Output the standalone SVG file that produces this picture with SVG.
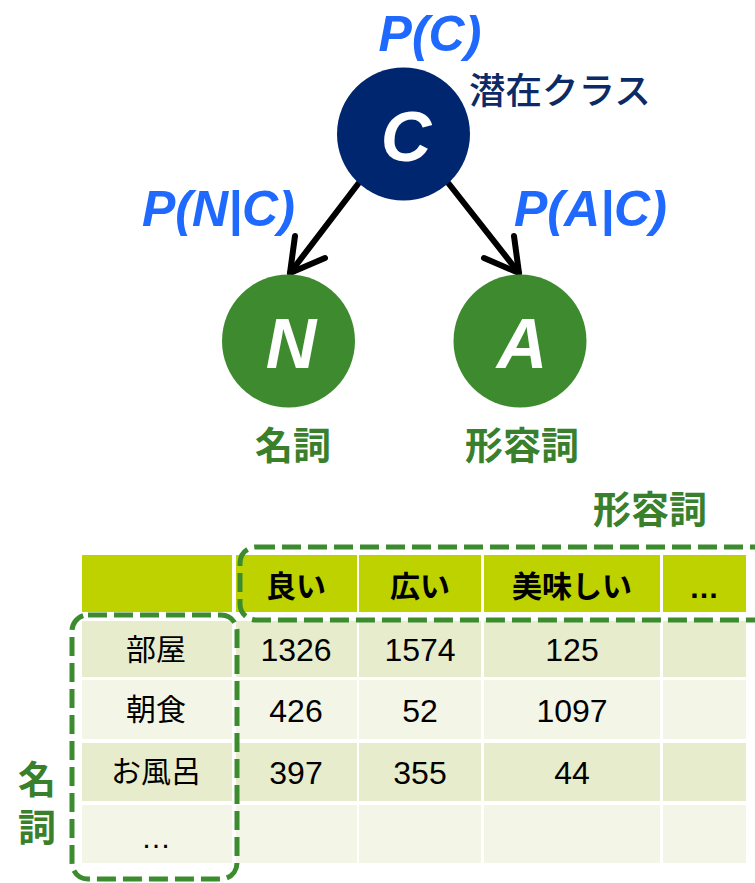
<svg xmlns="http://www.w3.org/2000/svg" width="755" height="883" viewBox="0 0 755 883">
<defs>
<style>
.lat{font-family:"Liberation Sans",Arial,sans-serif;font-weight:bold;font-style:italic}
.prob{fill:#1F69FF;font-size:50px}
.node-letter{fill:#fff;font-size:70px;text-anchor:middle}
.jp{font-family:"Noto Sans CJK JP","Noto Sans CJK SC",sans-serif}
.glabel{fill:#3A7F2C;font-size:38px;font-weight:bold;text-anchor:middle}
.hdr{fill:#BED200}
.r1{fill:#E7EDCC}
.r2{fill:#F3F6E7}
.ht{font-size:30px;font-weight:bold;fill:#000;text-anchor:middle}
.ct{font-size:30px;fill:#000;text-anchor:middle}
.num{font-family:"Liberation Sans",Arial,sans-serif;font-size:32px;fill:#000;text-anchor:middle}
.ell{font-family:"Liberation Sans",Arial,sans-serif;font-size:30px;fill:#000;text-anchor:middle}
.dash{fill:none;stroke:#3D8B2F;stroke-width:5;stroke-dasharray:19 7}
.edge{fill:none;stroke:#000;stroke-width:6;stroke-linecap:round;stroke-linejoin:round}
</style>
</defs>
<rect width="755" height="883" fill="#fff"/>

<g id="connectors">
<path class="edge" d="M358 184 L290 273"/>
<path class="edge" d="M295 236 L290 273 L325 258"/>
<path class="edge" d="M449 184 L519 273"/>
<path class="edge" d="M514 236 L519 273 L484 258"/>
</g>

<g id="node-C">
<circle cx="403.5" cy="134" r="66.5" fill="#00266F"/>
<text class="lat node-letter" x="406" y="161">C</text>
<text class="lat prob" x="430" y="51" text-anchor="middle">P(C)</text>
<text class="jp" x="469" y="104" font-size="36.5" font-weight="500" fill="#0B2A66">潜在クラス</text>
</g>

<g id="node-N">
<circle cx="288.5" cy="341" r="66.5" fill="#3E8B2F"/>
<text class="lat node-letter" x="291" y="368">N</text>
<text class="jp glabel" x="293" y="459">名詞</text>
</g>

<g id="node-A">
<circle cx="520" cy="341" r="66.5" fill="#3E8B2F"/>
<text class="lat node-letter" x="522" y="368">A</text>
<text class="jp glabel" x="522" y="459">形容詞</text>
</g>

<g id="edge-labels">
<text class="lat prob" x="142" y="226">P(N|C)</text>
<text class="lat prob" x="514" y="226">P(A|C)</text>
</g>

<g id="table">
<rect class="hdr" x="82" y="555" width="150" height="57"/>
<rect class="hdr" x="236" y="555" width="121" height="57"/>
<rect class="hdr" x="359" y="555" width="122" height="57"/>
<rect class="hdr" x="484" y="555" width="176" height="57"/>
<rect class="hdr" x="663" y="555" width="83" height="57"/>

<rect class="r1" x="82" y="621" width="150" height="56"/>
<rect class="r1" x="236" y="621" width="121" height="56"/>
<rect class="r1" x="359" y="621" width="122" height="56"/>
<rect class="r1" x="484" y="621" width="176" height="56"/>
<rect class="r1" x="663" y="621" width="83" height="56"/>

<rect class="r2" x="82" y="680" width="150" height="59"/>
<rect class="r2" x="236" y="680" width="121" height="59"/>
<rect class="r2" x="359" y="680" width="122" height="59"/>
<rect class="r2" x="484" y="680" width="176" height="59"/>
<rect class="r2" x="663" y="680" width="83" height="59"/>

<rect class="r1" x="82" y="743" width="150" height="58"/>
<rect class="r1" x="236" y="743" width="121" height="58"/>
<rect class="r1" x="359" y="743" width="122" height="58"/>
<rect class="r1" x="484" y="743" width="176" height="58"/>
<rect class="r1" x="663" y="743" width="83" height="58"/>

<rect class="r2" x="82" y="805" width="150" height="58"/>
<rect class="r2" x="236" y="805" width="121" height="58"/>
<rect class="r2" x="359" y="805" width="122" height="58"/>
<rect class="r2" x="484" y="805" width="176" height="58"/>
<rect class="r2" x="663" y="805" width="83" height="58"/>

<text class="jp ht" x="296" y="597">良い</text>
<text class="jp ht" x="420" y="597">広い</text>
<text class="jp ht" x="572" y="597">美味しい</text>
<text class="ell" x="704" y="598" font-weight="bold">…</text>

<text class="jp ct" x="156" y="660">部屋</text>
<text class="jp ct" x="156" y="720">朝食</text>
<text class="jp ct" x="156" y="782">お風呂</text>
<text class="ell" x="156" y="848">…</text>

<text class="num" x="296" y="661">1326</text>
<text class="num" x="420" y="661">1574</text>
<text class="num" x="572" y="661">125</text>
<text class="num" x="296" y="722">426</text>
<text class="num" x="420" y="722">52</text>
<text class="num" x="572" y="722">1097</text>
<text class="num" x="296" y="784">397</text>
<text class="num" x="420" y="784">355</text>
<text class="num" x="572" y="784">44</text>
</g>

<g id="group-adjective">
<rect class="dash" x="240" y="547" width="540" height="73" rx="16"/>
<text class="jp glabel" x="650" y="523">形容詞</text>
</g>

<g id="group-noun">
<rect class="dash" x="72" y="615" width="165" height="264" rx="16"/>
<text class="jp" x="37" y="760" font-size="38" font-weight="bold" fill="#3A7F2C" writing-mode="vertical-rl" letter-spacing="10">名詞</text>
</g>
</svg>
